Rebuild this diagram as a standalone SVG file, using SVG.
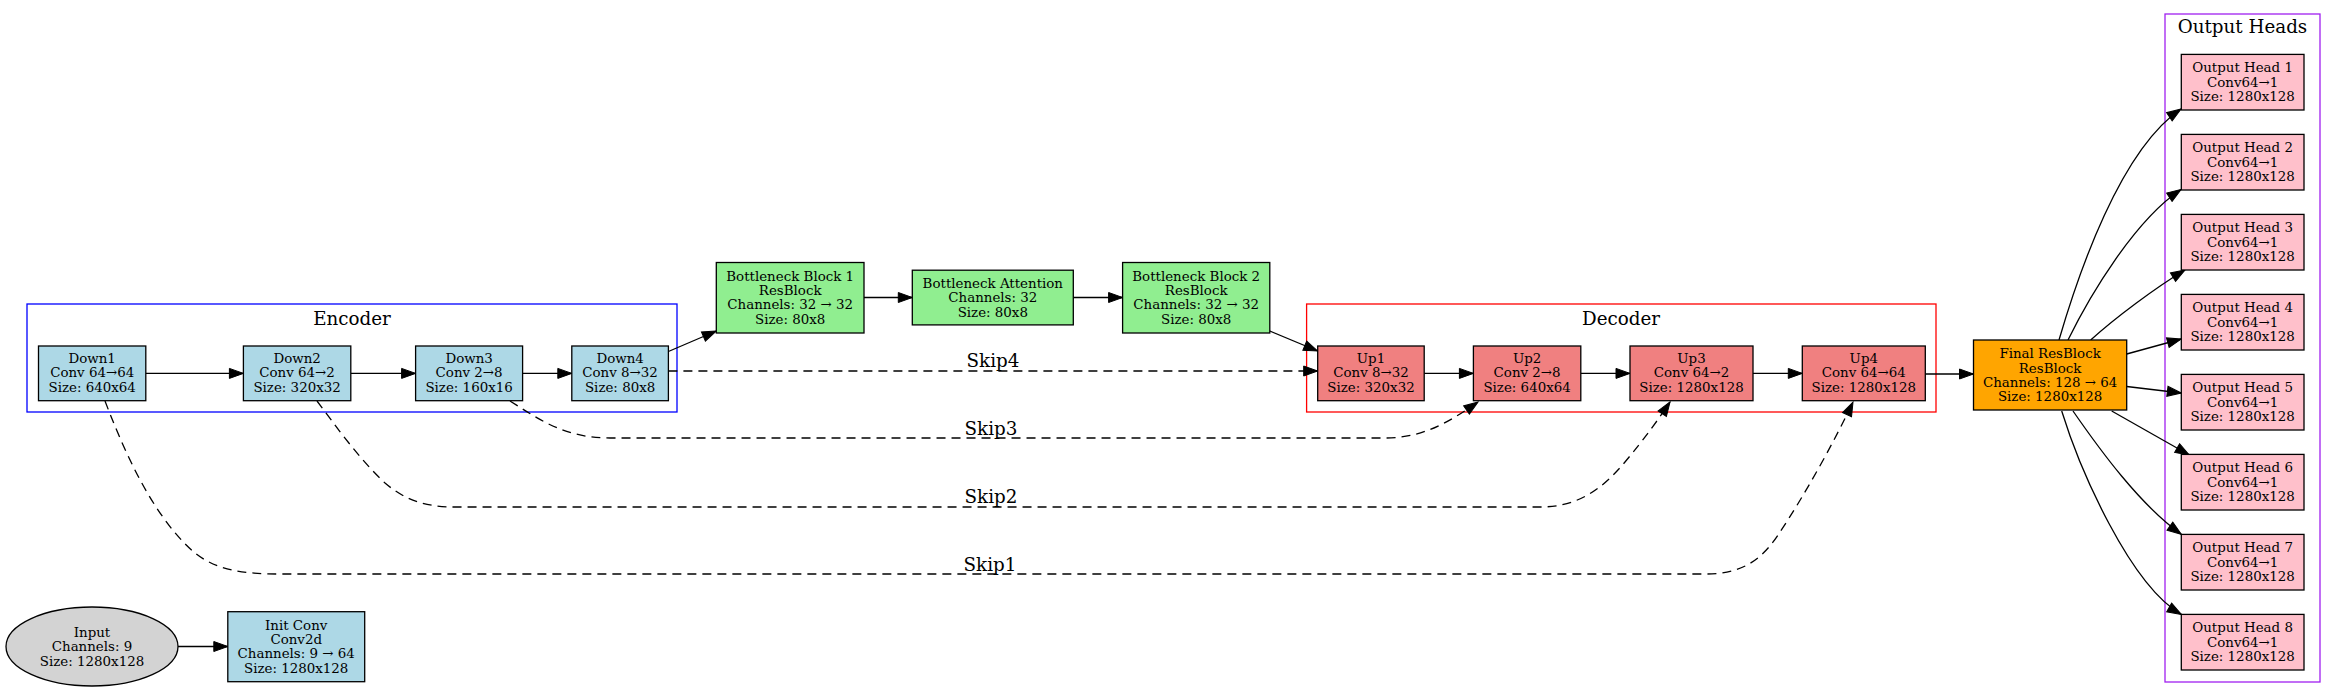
<svg xmlns="http://www.w3.org/2000/svg" width="2331" height="691" viewBox="0 0 2331 691">
<style>
text{font-family:"DejaVu Serif","Liberation Serif",serif;fill:#000;text-anchor:middle}
.n{font-size:13.4px}
.cl{font-size:18.3px}
.box{stroke:#000;stroke-width:1.3}
.enc{fill:#add8e6}
.bot{fill:#90ee90}
.dec{fill:#f08080}
.fin{fill:#ffa500}
.head{fill:#ffc0cb}
.inp{fill:#d3d3d3}
.cluster{fill:none;stroke-width:1.3}
.e{fill:none;stroke:#000;stroke-width:1.3;marker-end:url(#ah)}
.d{stroke-dasharray:9,6}
</style>
<defs>
<marker id="ah" markerUnits="userSpaceOnUse" markerWidth="16" markerHeight="12" viewBox="-15 -6 16 12" refX="0" refY="0" orient="auto">
<path d="M0,0 L-14,-5 L-14,5 Z" fill="#000" stroke="#000" stroke-width="1"/>
</marker>
</defs>
<rect width="2331" height="691" fill="#fff"/>
<g id="clusters">
<g id="cluster_encoder"><rect class="cluster" x="27" y="304" width="650" height="108" stroke="#0000ff"/><text class="cl" x="352" y="324.5">Encoder</text></g>
<g id="cluster_decoder"><rect class="cluster" x="1306.6" y="304" width="629.4" height="108" stroke="#ff0000"/><text class="cl" x="1621" y="324.5">Decoder</text></g>
<g id="cluster_heads"><rect class="cluster" x="2165" y="14" width="155" height="668" stroke="#a020f0"/><text class="cl" x="2242.5" y="33">Output Heads</text></g>
</g>
<g id="edges">
<path class="e" d="M178,646.5 L227.8,646.5"/>
<path class="e" d="M145.8,373.4 L243.4,373.4"/>
<path class="e" d="M350.8,373.4 L415.6,373.4"/>
<path class="e" d="M522.6,373.4 L571.8,373.4"/>
<path class="e" d="M668.4,351.5 L716.3,331"/>
<path class="e" d="M864,297.5 L912.3,297.5"/>
<path class="e" d="M1073.3,297.5 L1122.6,297.5"/>
<path class="e" d="M1269.8,331 L1317.7,351"/>
<path class="e" d="M1424.2,373.4 L1473.4,373.4"/>
<path class="e" d="M1580.8,373.4 L1630,373.4"/>
<path class="e" d="M1753,373.4 L1802.3,373.4"/>
<path class="e" d="M1925.3,374 L1973.5,374"/>
<path class="e d" d="M668.4,371 L1317.7,371"/>
<path class="e d" d="M510,401 C540,420 565,438 610,438 L1385,438 C1420,438 1445,425 1478,402"/>
<path class="e d" d="M317,401 C335,425 360,460 385,483 C405,500 425,507 455,507 L1540,507 C1575,507 1600,492 1625,462 C1645,438 1658,420 1670,402"/>
<path class="e d" d="M105,401 C120,440 150,515 195,553 C215,569 240,574 280,574 L1705,574 C1740,574 1760,562 1778,535 C1805,495 1835,440 1853,402"/>
<path class="e" d="M2059,340 C2078,275 2120,150 2181,109"/>
<path class="e" d="M2068,340 C2090,295 2135,220 2181,189.5"/>
<path class="e" d="M2090.7,340 C2115,318 2155,288 2185,270"/>
<path class="e" d="M2126.7,354 L2181.3,339"/>
<path class="e" d="M2126.7,386.5 L2181.3,393"/>
<path class="e" d="M2111.7,411 L2189.3,455"/>
<path class="e" d="M2073,411 C2100,450 2140,505 2181.3,534.3"/>
<path class="e" d="M2061.7,411 C2080,470 2130,585 2181.3,614.4"/>
<text class="cl" x="993" y="366.6">Skip4</text>
<text class="cl" x="991" y="434.6">Skip3</text>
<text class="cl" x="991" y="502.6">Skip2</text>
<text class="cl" x="990" y="570.6">Skip1</text>
</g>
<g id="input"><ellipse class="box inp" cx="92" cy="646.5" rx="86" ry="39.5"/><text class="n" x="92" y="636.8">Input</text><text class="n" x="92" y="651.2">Channels: 9</text><text class="n" x="92" y="665.6">Size: 1280x128</text></g>
<g id="initconv"><rect class="box enc" x="227.8" y="611.7" width="136.9" height="70"/><text class="n" x="296.2" y="629.6">Init Conv</text><text class="n" x="296.2" y="644">Conv2d</text><text class="n" x="296.2" y="658.4">Channels: 9 → 64</text><text class="n" x="296.2" y="672.8">Size: 1280x128</text></g>
<g id="down1"><rect class="box enc" x="38.5" y="346" width="107.3" height="54.7"/><text class="n" x="92.2" y="363">Down1</text><text class="n" x="92.2" y="377.4">Conv 64→64</text><text class="n" x="92.2" y="391.8">Size: 640x64</text></g>
<g id="down2"><rect class="box enc" x="243.4" y="346" width="107.4" height="54.7"/><text class="n" x="297.1" y="363">Down2</text><text class="n" x="297.1" y="377.4">Conv 64→2</text><text class="n" x="297.1" y="391.8">Size: 320x32</text></g>
<g id="down3"><rect class="box enc" x="415.6" y="346" width="107" height="54.7"/><text class="n" x="469.1" y="363">Down3</text><text class="n" x="469.1" y="377.4">Conv 2→8</text><text class="n" x="469.1" y="391.8">Size: 160x16</text></g>
<g id="down4"><rect class="box enc" x="571.8" y="346" width="96.6" height="54.7"/><text class="n" x="620.1" y="363">Down4</text><text class="n" x="620.1" y="377.4">Conv 8→32</text><text class="n" x="620.1" y="391.8">Size: 80x8</text></g>
<g id="bottleneck1"><rect class="box bot" x="716.3" y="262.5" width="147.7" height="70.5"/><text class="n" x="790.2" y="280.6">Bottleneck Block 1</text><text class="n" x="790.2" y="295">ResBlock</text><text class="n" x="790.2" y="309.4">Channels: 32 → 32</text><text class="n" x="790.2" y="323.8">Size: 80x8</text></g>
<g id="attention"><rect class="box bot" x="912.3" y="270.2" width="161" height="54.7"/><text class="n" x="992.8" y="287.8">Bottleneck Attention</text><text class="n" x="992.8" y="302.2">Channels: 32</text><text class="n" x="992.8" y="316.6">Size: 80x8</text></g>
<g id="bottleneck2"><rect class="box bot" x="1122.6" y="262.5" width="147.2" height="70.5"/><text class="n" x="1196.2" y="280.6">Bottleneck Block 2</text><text class="n" x="1196.2" y="295">ResBlock</text><text class="n" x="1196.2" y="309.4">Channels: 32 → 32</text><text class="n" x="1196.2" y="323.8">Size: 80x8</text></g>
<g id="up1"><rect class="box dec" x="1317.7" y="346" width="106.5" height="54.7"/><text class="n" x="1371" y="363">Up1</text><text class="n" x="1371" y="377.4">Conv 8→32</text><text class="n" x="1371" y="391.8">Size: 320x32</text></g>
<g id="up2"><rect class="box dec" x="1473.4" y="346" width="107.4" height="54.7"/><text class="n" x="1527.1" y="363">Up2</text><text class="n" x="1527.1" y="377.4">Conv 2→8</text><text class="n" x="1527.1" y="391.8">Size: 640x64</text></g>
<g id="up3"><rect class="box dec" x="1630" y="346" width="123" height="54.7"/><text class="n" x="1691.5" y="363">Up3</text><text class="n" x="1691.5" y="377.4">Conv 64→2</text><text class="n" x="1691.5" y="391.8">Size: 1280x128</text></g>
<g id="up4"><rect class="box dec" x="1802.3" y="346" width="123" height="54.7"/><text class="n" x="1863.8" y="363">Up4</text><text class="n" x="1863.8" y="377.4">Conv 64→64</text><text class="n" x="1863.8" y="391.8">Size: 1280x128</text></g>
<g id="final"><rect class="box fin" x="1973.5" y="340" width="153.2" height="70"/><text class="n" x="2050.1" y="358.1">Final ResBlock</text><text class="n" x="2050.1" y="372.5">ResBlock</text><text class="n" x="2050.1" y="386.9">Channels: 128 → 64</text><text class="n" x="2050.1" y="401.3">Size: 1280x128</text></g>
<g id="head1"><rect class="box head" x="2181.3" y="54.4" width="122.7" height="55.6"/><text class="n" x="2242.6" y="72.1">Output Head 1</text><text class="n" x="2242.6" y="86.5">Conv64→1</text><text class="n" x="2242.6" y="100.9">Size: 1280x128</text></g>
<g id="head2"><rect class="box head" x="2181.3" y="134.4" width="122.7" height="55.6"/><text class="n" x="2242.6" y="152.1">Output Head 2</text><text class="n" x="2242.6" y="166.5">Conv64→1</text><text class="n" x="2242.6" y="180.9">Size: 1280x128</text></g>
<g id="head3"><rect class="box head" x="2181.3" y="214.4" width="122.7" height="55.6"/><text class="n" x="2242.6" y="232.1">Output Head 3</text><text class="n" x="2242.6" y="246.5">Conv64→1</text><text class="n" x="2242.6" y="260.9">Size: 1280x128</text></g>
<g id="head4"><rect class="box head" x="2181.3" y="294.4" width="122.7" height="55.6"/><text class="n" x="2242.6" y="312.1">Output Head 4</text><text class="n" x="2242.6" y="326.5">Conv64→1</text><text class="n" x="2242.6" y="340.9">Size: 1280x128</text></g>
<g id="head5"><rect class="box head" x="2181.3" y="374.4" width="122.7" height="55.6"/><text class="n" x="2242.6" y="392.1">Output Head 5</text><text class="n" x="2242.6" y="406.5">Conv64→1</text><text class="n" x="2242.6" y="420.9">Size: 1280x128</text></g>
<g id="head6"><rect class="box head" x="2181.3" y="454.4" width="122.7" height="55.6"/><text class="n" x="2242.6" y="472.1">Output Head 6</text><text class="n" x="2242.6" y="486.5">Conv64→1</text><text class="n" x="2242.6" y="500.9">Size: 1280x128</text></g>
<g id="head7"><rect class="box head" x="2181.3" y="534.4" width="122.7" height="55.6"/><text class="n" x="2242.6" y="552.1">Output Head 7</text><text class="n" x="2242.6" y="566.5">Conv64→1</text><text class="n" x="2242.6" y="580.9">Size: 1280x128</text></g>
<g id="head8"><rect class="box head" x="2181.3" y="614.4" width="122.7" height="55.6"/><text class="n" x="2242.6" y="632.1">Output Head 8</text><text class="n" x="2242.6" y="646.5">Conv64→1</text><text class="n" x="2242.6" y="660.9">Size: 1280x128</text></g>
</svg>
